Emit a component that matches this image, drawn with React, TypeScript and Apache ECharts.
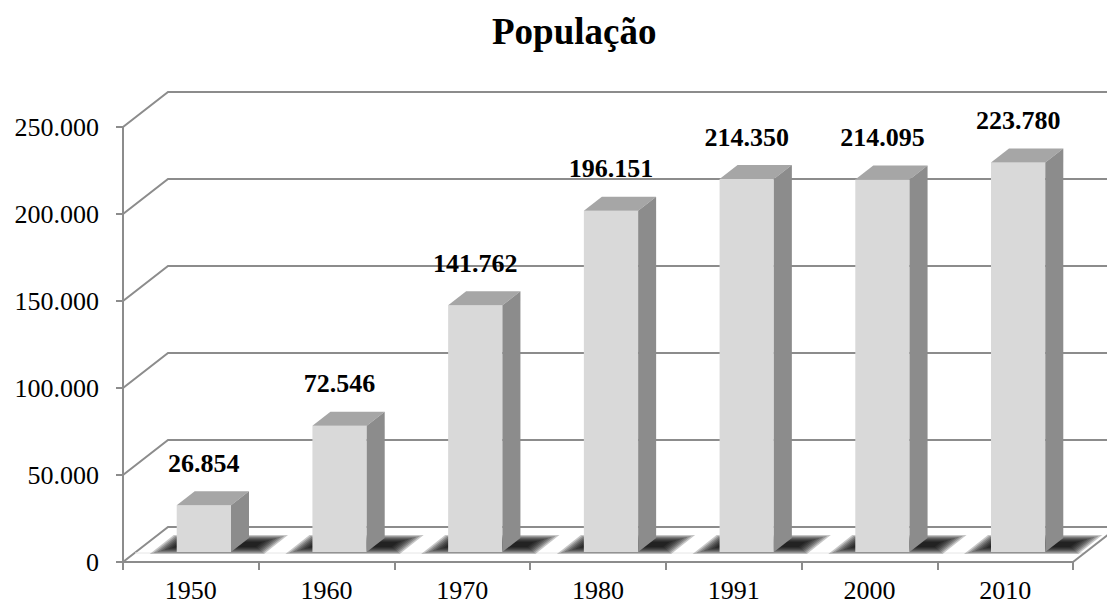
import React, { useEffect, useRef } from 'react';
import * as echarts from 'echarts';

const chartTitle = 'População';
const years = ['1950', '1960', '1970', '1980', '1991', '2000', '2010'];
const population = [26854, 72546, 141762, 196151, 214350, 214095, 223780];
const yTicks = [0, 50000, 100000, 150000, 200000, 250000];

const FONT = '"Liberation Serif", "Times New Roman", serif';
const GRID_COLOR = '#8c8c8c';

// 3D geometry (pixels)
const WALL_DX = 45;
const WALL_DY = -35;
const BAR_PLANE_DX = 13;
const BAR_PLANE_DY = -10;
const BAR_DX = 18;
const BAR_DY = -14;
const BAR_RATIO = 0.4;

const fmt = (v: number) => String(v).replace(/\B(?=(\d{3})+(?!\d))/g, '.');

export default function App() {
  const ref = useRef<HTMLDivElement>(null);

  useEffect(() => {
    if (!ref.current) return;
    const chart = echarts.init(ref.current, undefined, { renderer: 'svg' });

    const gridRender = (params: any, api: any) => {
      const cs = params.coordSys;
      const v = api.value(1);
      const y = api.coord([0, v])[1];
      const x0 = cs.x;
      return {
        type: 'polyline',
        silent: true,
        shape: { points: [[x0, y], [x0 + WALL_DX, y + WALL_DY], [x0 + cs.width + 200, y + WALL_DY]] },
        style: { stroke: GRID_COLOR, lineWidth: 2, fill: 'none' },
      };
    };

    const floorRender = (params: any, api: any) => {
      const cs = params.coordSys;
      const y = api.coord([0, 0])[1];
      const xr = cs.x + cs.width;
      return {
        type: 'group',
        children: [
          {
            type: 'line',
            shape: { x1: cs.x + 12, y1: y - 9, x2: xr + 12, y2: y - 9 },
            style: { stroke: '#e6e6e6', lineWidth: 1 },
          },
          {
            type: 'line',
            shape: { x1: xr, y1: y, x2: xr + WALL_DX, y2: y + WALL_DY },
            style: { stroke: GRID_COLOR, lineWidth: 2 },
          },
        ],
      };
    };

    const barRender = (params: any, api: any) => {
      const idx = api.value(0);
      const v = api.value(1);
      const [cx, y0] = api.coord([idx, 0]);
      const y1 = api.coord([idx, v])[1];
      const bw = api.size([1, 0])[0] * BAR_RATIO;
      const fx = cx + BAR_PLANE_DX - bw / 2;
      const by = y0 + BAR_PLANE_DY;
      const ty = y1 + BAR_PLANE_DY;
      const shL = fx - 27;
      const shR = fx + bw + 33;
      const shH = 19;
      const shS = 24;
      const shadowLayers: any[] = [];
      const N = 8;
      for (let k = 0; k < N; k++) {
        const ix = k * 2.4;
        const iy = k * 1.0;
        const l = shL + ix;
        const r = shR - ix;
        const b = by + 2 - iy;
        const t = by + 2 - shH + iy;
        const sb = (shS * (by + 2 - b)) / shH;
        const st = (shS * (by + 2 - t)) / shH;
        shadowLayers.push({
          type: 'polygon',
          shape: { points: [[l + sb, b], [r + sb, b], [r + st, t], [l + st, t]] },
          style: { fill: 'rgba(0,0,0,0.22)' },
        });
      }
      return {
        type: 'group',
        children: [
          ...shadowLayers,
          {
            type: 'rect',
            shape: { x: fx, y: ty, width: bw, height: by - ty },
            style: { fill: '#d9d9d9' },
          },
          {
            type: 'polygon',
            shape: { points: [[fx, ty], [fx + bw, ty], [fx + bw + BAR_DX, ty + BAR_DY], [fx + BAR_DX, ty + BAR_DY]] },
            style: { fill: '#a6a6a6' },
          },
          {
            type: 'polygon',
            shape: { points: [[fx + bw, ty], [fx + bw + BAR_DX, ty + BAR_DY], [fx + bw + BAR_DX, by + BAR_DY], [fx + bw, by]] },
            style: { fill: '#8c8c8c' },
          },
          {
            type: 'text',
            style: {
              text: fmt(v),
              x: fx + bw / 2,
              y: ty - 42,
              align: 'center',
              verticalAlign: 'middle',
              fill: '#000',
              fontSize: 26,
              fontWeight: 'bold',
              fontFamily: FONT,
            },
          },
        ],
      };
    };

    chart.setOption({
      animation: false,
      backgroundColor: '#ffffff',
      title: {
        text: chartTitle,
        left: 487,
        top: 8,
        textStyle: { fontFamily: FONT, fontSize: 37, fontWeight: 'bold', color: '#000' },
      },
      grid: { left: 123, right: 34, top: 127, bottom: 43, containLabel: false },
      xAxis: {
        type: 'category',
        data: years,
        boundaryGap: true,
        axisLine: { show: true, lineStyle: { color: GRID_COLOR, width: 2 } },
        axisTick: { show: true, length: 8, interval: 0, lineStyle: { color: GRID_COLOR, width: 2 } },
        axisLabel: { color: '#000', fontFamily: FONT, fontSize: 26, margin: 15, interval: 0 },
        splitLine: { show: false },
      },
      yAxis: {
        type: 'value',
        min: 0,
        max: 250000,
        interval: 50000,
        axisLine: { show: true, lineStyle: { color: GRID_COLOR, width: 2 } },
        axisTick: { show: true, length: 7, lineStyle: { color: GRID_COLOR, width: 2 } },
        axisLabel: { color: '#000', fontFamily: FONT, fontSize: 26, margin: 24, formatter: (v: number) => fmt(v) },
        splitLine: { show: false },
      },
      series: [
        {
          type: 'custom',
          name: 'grid',
          silent: true,
          renderItem: gridRender,
          encode: { x: 0, y: 1 },
          data: yTicks.map((t) => [0, t]),
          z: 1,
        },
        {
          type: 'custom',
          name: 'floor',
          silent: true,
          renderItem: floorRender,
          encode: { x: 0, y: 1 },
          data: [[0, 0]],
          z: 1,
        },
        {
          type: 'custom',
          name: 'População',
          renderItem: barRender,
          encode: { x: 0, y: 1 },
          data: years.map((_, i) => [i, population[i]]),
          z: 3,
        },
      ],
    });

    return () => chart.dispose();
  }, []);

  return (
    <div
      ref={ref}
      style={{ position: 'absolute', left: 0, top: 0, width: 1107, height: 605 }}
    />
  );
}
